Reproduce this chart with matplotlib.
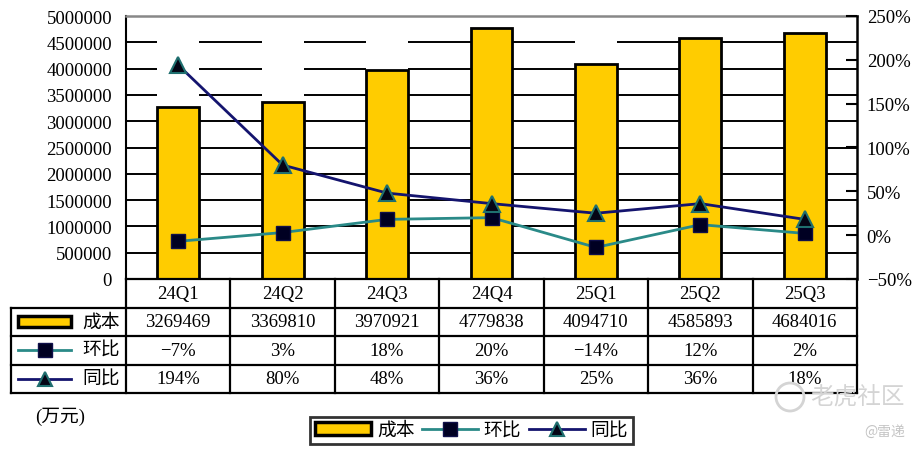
import matplotlib
matplotlib.use("Agg")
import matplotlib.pyplot as plt
from matplotlib.patches import Rectangle, Patch, Circle
from matplotlib.lines import Line2D
from matplotlib.transforms import IdentityTransform

plt.rcParams['font.family'] = ['Liberation Serif', 'Noto Sans CJK SC', 'DejaVu Sans']

quarters = ['24Q1', '24Q2', '24Q3', '24Q4', '25Q1', '25Q2', '25Q3']
cost = [3269469, 3369810, 3970921, 4779838, 4094710, 4585893, 4684016]
qoq = [-7, 3, 18, 20, -14, 12, 2]        # 环比 %
yoy = [194, 80, 48, 36, 25, 36, 18]      # 同比 %
left_ticks = list(range(0, 5000001, 500000))
right_ticks = list(range(-50, 251, 50))

bar_color = '#FFCC00'
qoq_color = '#2A8A88'
yoy_color = '#14146E'
fs = 13.5
bw = 0.4

W, H = 922, 452
fig = plt.figure(figsize=(W / 100, H / 100), dpi=100)

# main plot area in pixels
px_l, px_r, px_t, px_b = 126, 857, 17, 280
ax = fig.add_axes([px_l / W, 1 - px_b / H, (px_r - px_l) / W, (px_b - px_t) / H])
x = list(range(len(quarters)))

ax.bar(x, cost, width=bw, color=bar_color, edgecolor='black', linewidth=2, zorder=2)
ax.set_xlim(-0.5, 6.5)
ax.set_ylim(0, 5000000)
ax.set_xticks([])
ax.set_yticks(left_ticks)
ax.set_yticklabels([str(t) for t in left_ticks], fontsize=fs)
ax.tick_params(axis='y', length=0, pad=10)

# horizontal gridlines, drawn in the gaps between the bars
seg_start = [-0.5] + [i + bw / 2 for i in x]
seg_end = [i - bw / 2 for i in x] + [6.5]
for t in left_ticks[1:-1]:
    ax.hlines([t] * len(seg_start), seg_start, seg_end, colors='black',
              linewidth=1.4, zorder=2.1)

ax.spines['top'].set_color('#888888')
ax.spines['top'].set_linewidth(1.8)
ax.spines['top'].set_zorder(3)
ax.spines['left'].set_linewidth(1.5)
ax.spines['bottom'].set_visible(False)
ax.spines['right'].set_visible(False)

ax2 = ax.twinx()
ax2.plot(x, qoq, color=qoq_color, lw=2, marker='s', markersize=10,
         markerfacecolor='#000022', markeredgecolor='#10104A', zorder=3)
ax2.plot(x, yoy, color=yoy_color, lw=2, marker='^', markersize=11,
         markerfacecolor='#050515', markeredgecolor='#1F6F6F', markeredgewidth=1.5, zorder=4)
ax2.set_ylim(-50, 250)
ax2.set_yticks(right_ticks)
ax2.set_yticklabels([f"{t}%".replace('-', '\u2212') for t in right_ticks], fontsize=fs)
ax2.tick_params(axis='y', direction='in', length=8, width=1.5, pad=7)
for s in ['top', 'left', 'bottom']:
    ax2.spines[s].set_visible(False)
ax2.spines['right'].set_linewidth(1.8)

# data table under the plot
tb_l, tb_b = 11, 394
hw = (px_l - tb_l) / ((px_r - px_l) / 7)
tax = fig.add_axes([tb_l / W, 1 - tb_b / H, (px_r - tb_l) / W, (tb_b - px_b) / H])
tax.set_xlim(-0.5 - hw, 6.5)
tax.set_ylim(4, 0)
tax.axis('off')
x0 = -0.5 - hw
lk = dict(color='black', lw=1.6, clip_on=False)
tax.plot([-0.5, 6.5], [0, 0], **lk)
for r in [1, 2, 3, 4]:
    tax.plot([x0, 6.5], [r, r], **lk)
tax.plot([x0, x0], [1, 4], **lk)
for i in range(8):
    tax.plot([i - 0.5, i - 0.5], [0, 4], **lk)

for i, q in enumerate(quarters):
    tax.text(i, 0.5, q, ha='center', va='center', fontsize=fs)
    tax.text(i, 1.5, str(cost[i]), ha='center', va='center', fontsize=fs)
    tax.text(i, 2.5, f"{qoq[i]}%".replace('-', '\u2212'), ha='center', va='center', fontsize=fs)
    tax.text(i, 3.5, f"{yoy[i]}%", ha='center', va='center', fontsize=fs)

def tpx(p):
    return (p - tb_l) / ((px_r - px_l) / 7) + x0

gx0, gx1, gxm, tx = tpx(18), tpx(71), tpx(45), tpx(82)
tax.add_patch(Rectangle((gx0, 1.5 - 0.2), gx1 - gx0, 0.4, facecolor=bar_color,
                        edgecolor='black', lw=2.5))
tax.plot([gx0, gx1], [2.5, 2.5], color=qoq_color, lw=2)
tax.plot([gxm], [2.5], marker='s', markersize=10, color='#000022', markeredgecolor='#10104A')
tax.plot([gx0, gx1], [3.5, 3.5], color=yoy_color, lw=2)
tax.plot([gxm], [3.5], marker='^', markersize=10, markerfacecolor='#050515',
         markeredgecolor='#1F6F6F', markeredgewidth=1.5)
for r, lab in zip([1.5, 2.5, 3.5], ['成本', '环比', '同比']):
    tax.text(tx, r, lab, ha='left', va='center', fontsize=fs)

fig.text(35 / W, 1 - 417 / H, '(万元)', ha='left', va='center', fontsize=fs)

handles = [
    Patch(facecolor=bar_color, edgecolor='black', lw=2.5),
    Line2D([], [], color=qoq_color, lw=2, marker='s', markersize=10,
           markerfacecolor='#000022', markeredgecolor='#10104A'),
    Line2D([], [], color=yoy_color, lw=2, marker='^', markersize=10,
           markerfacecolor='#050515', markeredgecolor='#1F6F6F', markeredgewidth=1.5),
]
leg = fig.legend(handles, ['成本', '环比', '同比'], loc='center',
                 bbox_to_anchor=(471.5 / W, 1 - 431.5 / H), ncol=3, fontsize=fs,
                 frameon=True, fancybox=False, edgecolor='black', borderpad=0.25,
                 handlelength=3.0, handletextpad=0.3, columnspacing=0.4,
                 borderaxespad=0)
leg.get_frame().set_linewidth(2)

# watermark
fig.text(905 / W, 1 - 398 / H, '老虎社区', ha='right', va='center', fontsize=17,
         color='#d4d4d4', family=['Noto Sans CJK SC'])
fig.add_artist(Circle((790, H - 398), 14, transform=IdentityTransform(),
                      fill=False, ec='#d4d4d4', lw=2))
fig.text(905 / W, 1 - 432 / H, '@雷递', ha='right', va='center', fontsize=10,
         color='#c4c4c4', family=['Noto Sans CJK SC'])

fig.savefig('out.png', dpi=100)
